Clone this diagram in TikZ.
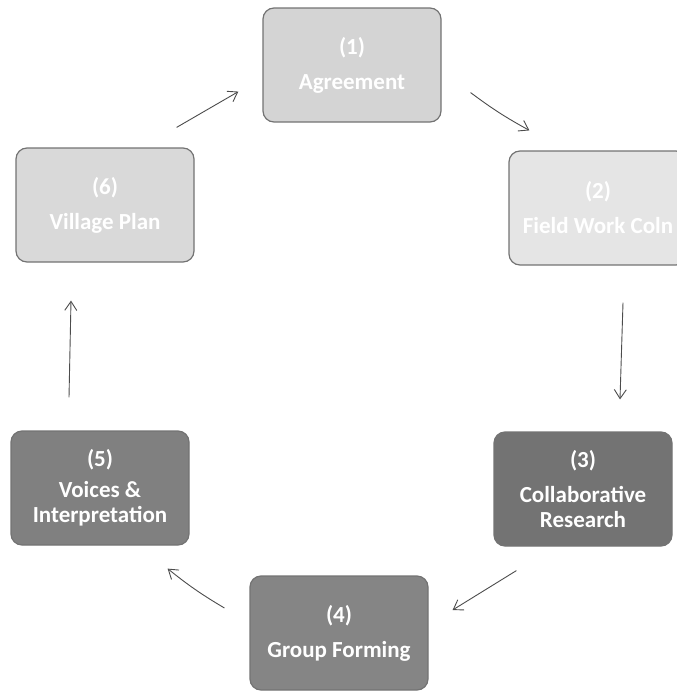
\documentclass[tikz,border=0pt]{standalone}
\usepackage{fontspec}
\setmainfont{Carlito}
\usetikzlibrary{arrows.meta}

\tikzset{
    kasten/.style={rounded corners=11pt, draw=black!55, line width=1.2pt,
        minimum width=178pt, minimum height=114pt, align=center, text=white,
        font=\bfseries\fontsize{23}{35}\selectfont},
    pfeil/.style={-{Straight Barb[length=9pt,width=12pt]}, line width=0.9pt, black!70}
}

\begin{document}
\begin{tikzpicture}[x=1pt, y=-1pt]
    % Rahmen des Bildes
    \useasboundingbox (0,0) rectangle (677,696);
    \clip (0,0) rectangle (677,696);

    % Die sechs Schritte
    \node[kasten, fill=black!17] (agr) at (352,65) {(1)\\Agreement};
    \node[kasten, fill=black!10] (fld) at (598,208) {(2)\\Field Work Coln};
    \node[kasten, fill=black!55] (col) at (583,489) {(3)\\Collaborative\\[-10pt]Research};
    \node[kasten, fill=black!48] (grp) at (339,633) {(4)\\Group Forming};
    \node[kasten, fill=black!50] (voi) at (100,488) {(5)\\[-4pt]Voices \&\\[-10pt]Interpretation};
    \node[kasten, fill=black!15] (vil) at (105,205) {(6)\\Village Plan};

    % Pfeile im Kreis
    \draw[pfeil] ([xshift=-18pt,yshift=20pt]vil.north east) -- ([xshift=-24pt,yshift=31pt]agr.south west);
    \draw[pfeil] ([xshift=29pt,yshift=30pt]agr.south east) to[bend right=4] ([xshift=21pt,yshift=20pt]fld.north west);
    \draw[pfeil] ([xshift=25pt,yshift=-37pt]fld.south) -- ([xshift=37pt,yshift=32pt]col.north);
    \draw[pfeil] ([xshift=23pt,yshift=-24pt]col.south west) -- ([xshift=24pt,yshift=23pt]grp.east);
    \draw[pfeil] ([xshift=-25pt,yshift=25pt]grp.west) to[bend left=4] ([xshift=-22pt,yshift=-23pt]voi.south east);
    \draw[pfeil] ([xshift=-31pt,yshift=33pt]voi.north) -- ([xshift=-34pt,yshift=-38pt]vil.south);
\end{tikzpicture}
\end{document}
